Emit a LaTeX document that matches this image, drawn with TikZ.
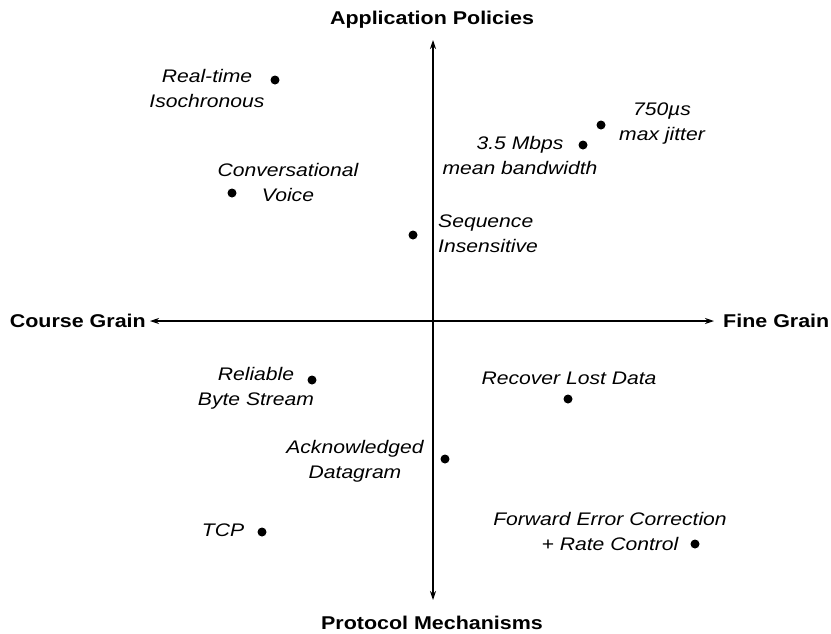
\documentclass[tikz,border=0pt]{standalone}
\usepackage{fontspec}
\setmainfont[FakeStretch=1.16]{Liberation Sans}
\usetikzlibrary{arrows.meta}
\begin{document}
\begin{tikzpicture}[x=1pt,y=-1pt,
  lbl/.style={font=\fontsize{18.2}{25}\selectfont\itshape, inner sep=0pt, align=center},
  axlbl/.style={font=\fontsize{18.5}{22}\selectfont\bfseries, inner sep=0pt},
  dot/.style={circle, fill=black, inner sep=0pt, minimum size=9pt},
  axis/.style={line width=1.1pt, {Stealth[length=9pt,width=6pt]}-{Stealth[length=9pt,width=6pt]}}]
\useasboundingbox (0,0) rectangle (831,633);
% axis labels
\node[axlbl] (app) at (432,20) {Application Policies};
\node[axlbl] (proto) at (432,623) {Protocol Mechanisms};
\node[axlbl, anchor=east] (course) at (146,321) {Course Grain};
\node[axlbl, anchor=west] (fine) at (723,321) {Fine Grain};
% axes
\coordinate (yt) at (433,40);
\coordinate (yb) at (433,600);
\coordinate (xl) at (150,321);
\coordinate (xr) at (714,321);
\draw[axis] (yb) -- (yt);
\draw[axis] (xl) -- (xr);
% points and labels
\node[dot] (d1) at (275,80) {};
\node[lbl] (t1) at (207,88) {Real-time\\Isochronous};
\node[dot] (d2) at (601,125) {};
\node[lbl] (t2) at (662,124) {750µs\\max jitter};
\node[dot] (d3) at (583,145) {};
\node[lbl] (t3) at (520,155) {3.5 Mbps\\mean bandwidth};
\node[dot] (d4) at (232,193) {};
\node[lbl] (t4) at (288,182) {Conversational\\Voice};
\node[dot] (d5) at (413,235) {};
\node[lbl, align=left, anchor=west] (t5) at (438,234) {Sequence\\Insensitive};
\node[dot] (d6) at (312,380) {};
\node[lbl] (t6) at (256,388) {Reliable\\Byte Stream};
\node[dot] (d7) at (568,399) {};
\node[lbl] (t7) at (569,378) {Recover Lost Data};
\node[dot] (d8) at (445,459) {};
\node[lbl] (t8) at (355,461) {Acknowledged\\Datagram};
\node[dot] (d9) at (262,532) {};
\node[lbl] (t9) at (223,530) {TCP};
\node[dot] (d10) at (695,544) {};
\node[lbl] (t10) at (610,531) {Forward Error Correction\\+ Rate Control};
\end{tikzpicture}
\end{document}
